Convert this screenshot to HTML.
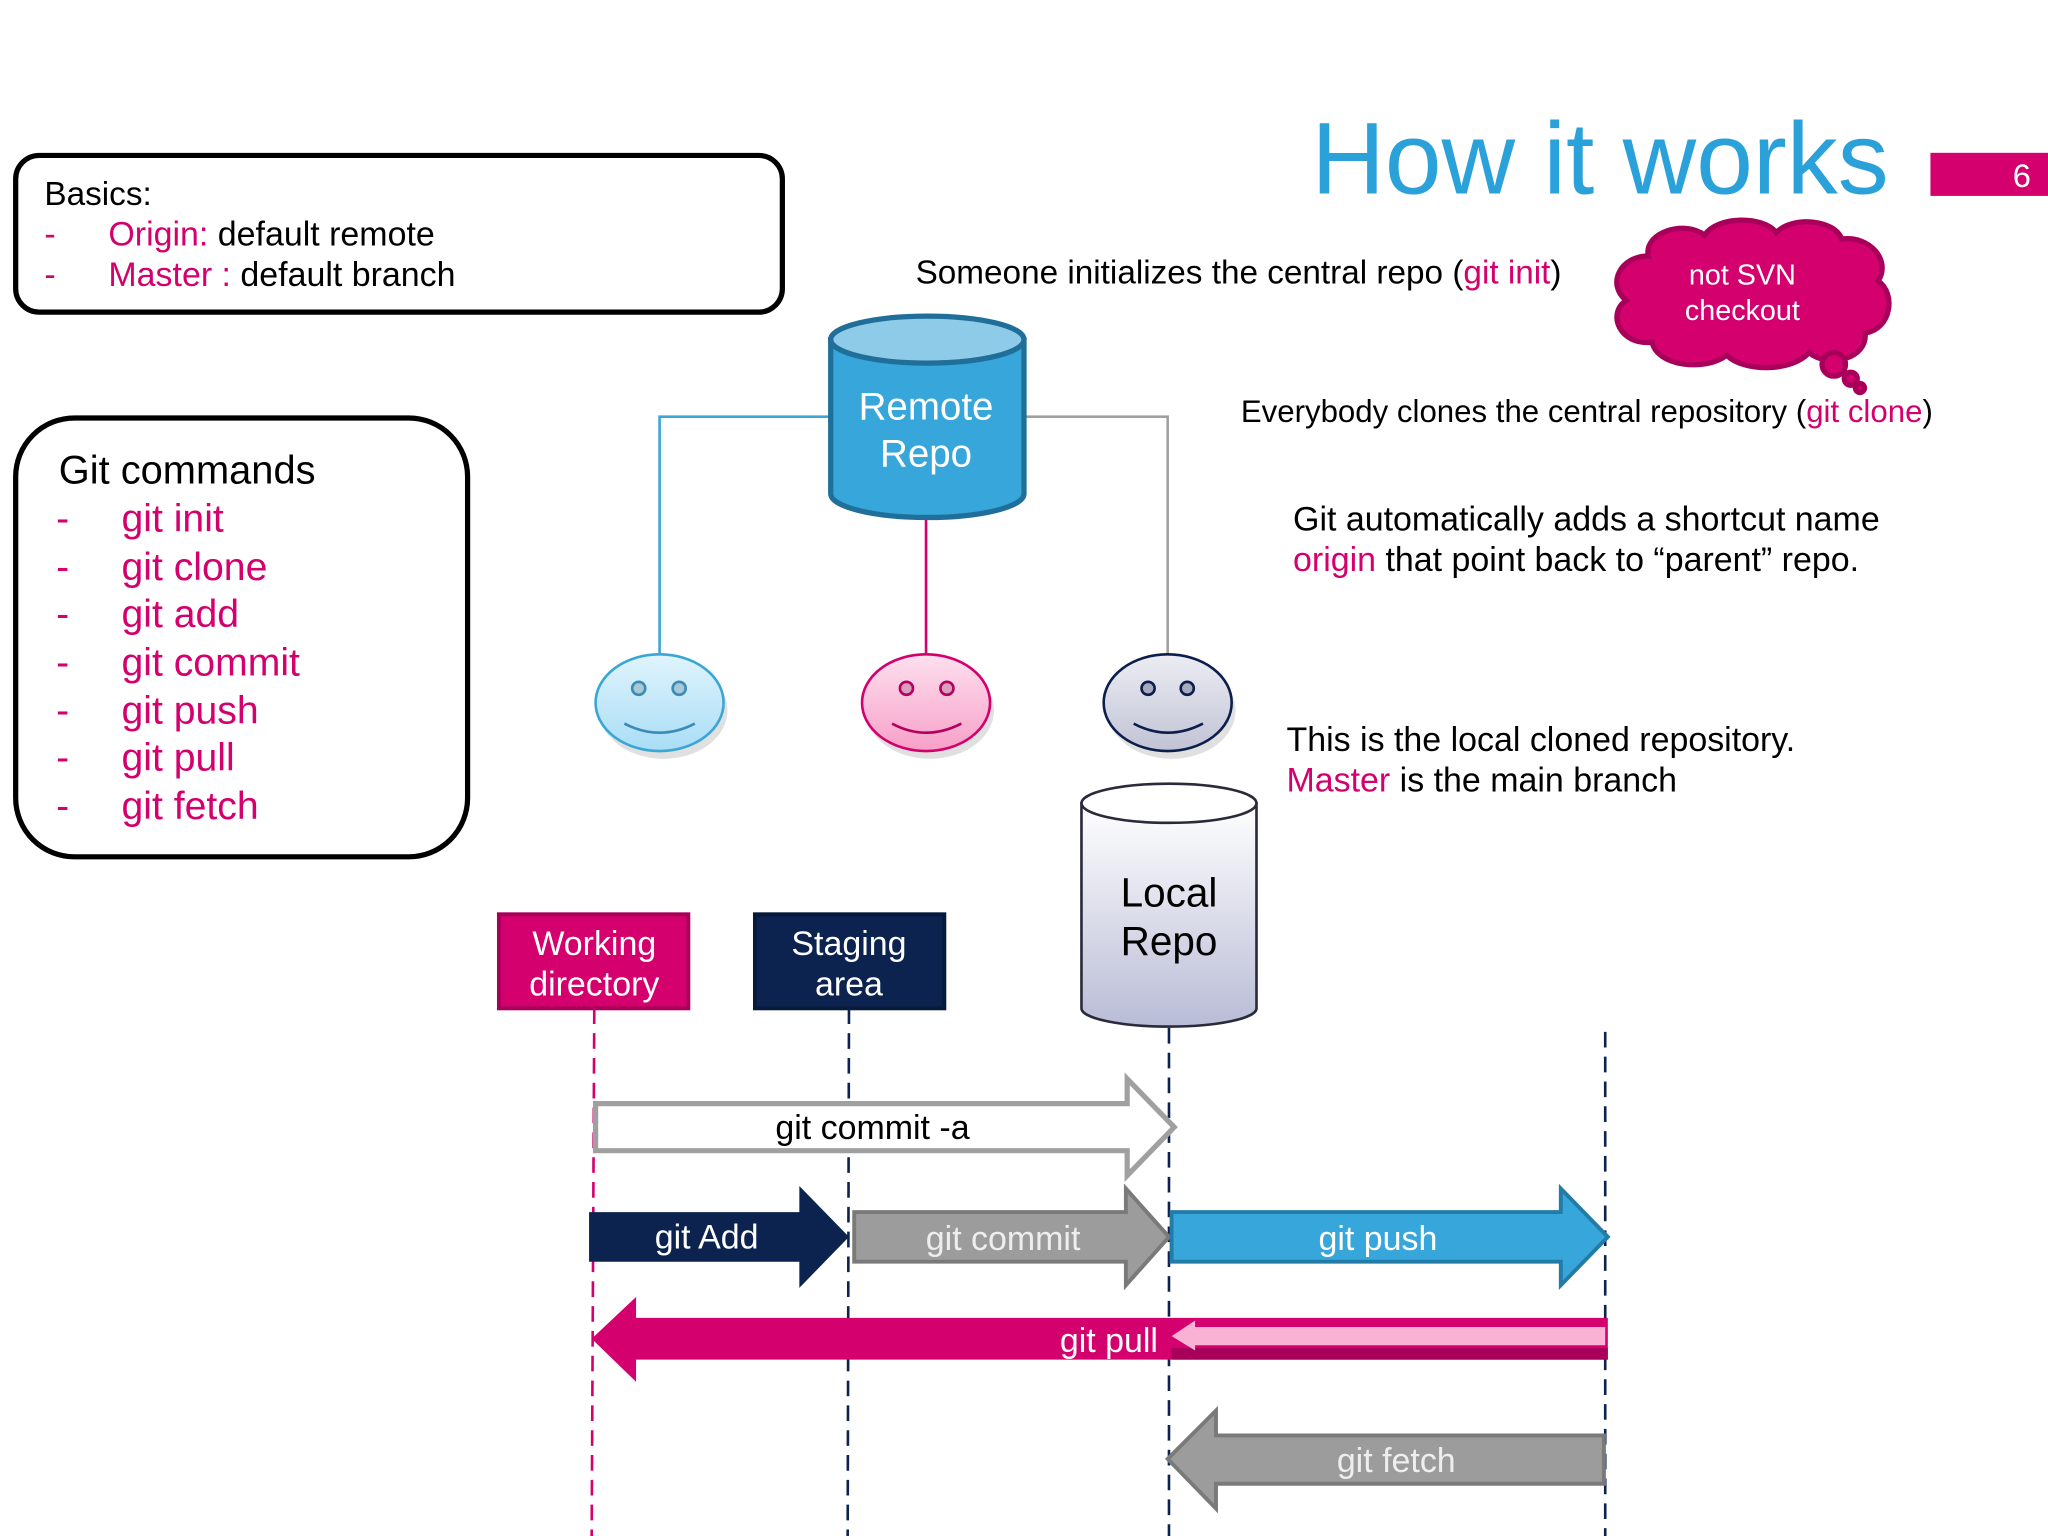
<!DOCTYPE html>
<html><head><meta charset="utf-8"><style>
html,body{margin:0;padding:0;background:#fff;}
svg{display:block;}
text{font-family:"Liberation Sans",Arial,sans-serif;}
</style></head><body>
<svg width="2048" height="1536" viewBox="0 0 1568 1176" xmlns="http://www.w3.org/2000/svg">
<defs>
<linearGradient id="lr" x1="0" y1="0" x2="0" y2="1"><stop offset="0" stop-color="#ffffff"/><stop offset="1" stop-color="#b9bcd6"/></linearGradient>
<linearGradient id="sb" x1="0" y1="0" x2="0" y2="1"><stop offset="0" stop-color="#e0f4fd"/><stop offset="1" stop-color="#a9ddf6"/></linearGradient>
<linearGradient id="sp" x1="0" y1="0" x2="0" y2="1"><stop offset="0" stop-color="#fde0ee"/><stop offset="1" stop-color="#f7a0c8"/></linearGradient>
<linearGradient id="sg" x1="0" y1="0" x2="0" y2="1"><stop offset="0" stop-color="#ecedf3"/><stop offset="1" stop-color="#c1c3d5"/></linearGradient>
</defs>
<rect width="1568" height="1176" fill="#fff"/>
<text x="1004" y="148" font-size="78" fill="#2ba1da">How it works</text>
<rect x="1478" y="117" width="90" height="33" fill="#d4006e"/>
<text x="1548" y="143" font-size="25" fill="#fff" text-anchor="middle">6</text>
<rect x="12" y="119" width="587" height="120" rx="18" fill="#fff" stroke="#000" stroke-width="4"/>
<text x="34" y="157" font-size="25.5">Basics:</text>
<text x="34" y="188" font-size="26" fill="#d4006e">-</text>
<text x="83" y="188" font-size="26"><tspan fill="#d4006e">Origin:</tspan> default remote</text>
<text x="34" y="219" font-size="26" fill="#d4006e">-</text>
<text x="83" y="219" font-size="26"><tspan fill="#d4006e">Master :</tspan> default branch</text>
<rect x="12" y="320" width="346" height="336" rx="45" fill="#fff" stroke="#000" stroke-width="4"/>
<text x="45" y="370" font-size="30.5">Git commands</text>
<g font-size="30" fill="#d4006e">
<text x="43" y="407">-</text><text x="93" y="407">git init</text>
<text x="43" y="444">-</text><text x="93" y="444">git clone</text>
<text x="43" y="480">-</text><text x="93" y="480">git add</text>
<text x="43" y="517">-</text><text x="93" y="517">git commit</text>
<text x="43" y="554">-</text><text x="93" y="554">git push</text>
<text x="43" y="590">-</text><text x="93" y="590">git pull</text>
<text x="43" y="627">-</text><text x="93" y="627">git fetch</text>
</g>
<text x="701" y="217" font-size="25.5">Someone initializes the central repo (<tspan fill="#d4006e">git init</tspan>)</text>
<text x="950" y="323" font-size="23.9">Everybody clones the central repository (<tspan fill="#d4006e">git clone</tspan>)</text>
<text x="990" y="406" font-size="26">Git automatically adds a shortcut name</text>
<text x="990" y="437" font-size="26"><tspan fill="#d4006e">origin</tspan> that point back to “parent” repo.</text>
<text x="985" y="575" font-size="26">This is the local cloned repository.</text>
<text x="985" y="606" font-size="26"><tspan fill="#d4006e">Master</tspan> is the main branch</text>
<g fill="#d4006e" stroke="#a8005a" stroke-width="4">
<path d="M1262,196 C1258,178 1290,168 1305,180 C1315,165 1350,165 1360,178 C1372,165 1405,168 1410,183 C1432,180 1448,200 1438,215 C1452,225 1448,252 1428,255 C1430,275 1400,282 1385,270 C1372,285 1335,285 1322,272 C1305,285 1268,280 1265,262 C1240,265 1230,240 1245,230 C1230,218 1240,196 1262,196 Z"/>
<circle cx="1404" cy="279" r="9"/>
<circle cx="1417" cy="290" r="5"/>
<circle cx="1424" cy="297" r="3.5"/>
</g>
<text x="1334" y="218" font-size="22" fill="#fff" text-anchor="middle">not SVN</text>
<text x="1334" y="245" font-size="22" fill="#fff" text-anchor="middle">checkout</text>
<polyline points="635,319 505,319 505,502" fill="none" stroke="#3aa6d6" stroke-width="2"/>
<line x1="709" y1="395" x2="709" y2="501" stroke="#d4006e" stroke-width="2"/>
<polyline points="785,319 894,319 894,502" fill="none" stroke="#a0a0a0" stroke-width="2"/>
<path d="M636,260 L636,378 A73,18 0 0 0 784,378 L784,260 Z" fill="#37a6da" stroke="#1f6f9a" stroke-width="4"/>
<ellipse cx="710" cy="260" rx="74" ry="18" fill="#8ecbe8" stroke="#1f6f9a" stroke-width="4"/>
<text x="709" y="321" font-size="29.5" fill="#fff" text-anchor="middle">Remote</text>
<text x="709" y="357" font-size="29.5" fill="#fff" text-anchor="middle">Repo</text>
<g stroke-width="2">
<ellipse cx="505" cy="540" rx="49" ry="37" fill="#000" opacity="0.12" transform="translate(3,4)"/>
<ellipse cx="505" cy="538" rx="49" ry="37" fill="url(#sb)" stroke="#3aa6d6"/>
<circle cx="489" cy="527" r="5" fill="#a8c8d8" stroke="#3a8cb6"/><circle cx="520" cy="527" r="5" fill="#a8c8d8" stroke="#3a8cb6"/>
<path d="M478,554 Q505,568 532,554" fill="none" stroke="#3a8cb6"/>
<ellipse cx="709" cy="540" rx="49" ry="37" fill="#000" opacity="0.12" transform="translate(3,4)"/>
<ellipse cx="709" cy="538" rx="49" ry="37" fill="url(#sp)" stroke="#d4006e"/>
<circle cx="694" cy="527" r="5" fill="#d8a0bc" stroke="#b4005e"/><circle cx="725" cy="527" r="5" fill="#d8a0bc" stroke="#b4005e"/>
<path d="M683,554 Q709,568 736,554" fill="none" stroke="#b4005e"/>
<ellipse cx="894" cy="540" rx="49" ry="37" fill="#000" opacity="0.12" transform="translate(3,4)"/>
<ellipse cx="894" cy="538" rx="49" ry="37" fill="url(#sg)" stroke="#0c1f4c"/>
<circle cx="879" cy="527" r="5" fill="#a8abc0" stroke="#0c1f4c"/><circle cx="909" cy="527" r="5" fill="#a8abc0" stroke="#0c1f4c"/>
<path d="M868,554 Q894,568 921,554" fill="none" stroke="#0c1f4c"/>
</g>
<path d="M828,615 L828,772 A67,14 0 0 0 962,772 L962,615 Z" fill="url(#lr)" stroke="#2a2a3a" stroke-width="2"/>
<ellipse cx="895" cy="615" rx="67" ry="15" fill="#fff" stroke="#2a2a3a" stroke-width="2"/>
<text x="895" y="694" font-size="31" text-anchor="middle">Local</text>
<text x="895" y="731" font-size="31" text-anchor="middle">Repo</text>
<rect x="382" y="700" width="145" height="72" fill="#d4006e" stroke="#a8005a" stroke-width="3"/>
<text x="455" y="731" font-size="26" fill="#fff" text-anchor="middle">Working</text>
<text x="455" y="762" font-size="26" fill="#fff" text-anchor="middle">directory</text>
<rect x="578" y="700" width="145" height="72" fill="#0c2350" stroke="#081a3c" stroke-width="3"/>
<text x="650" y="731" font-size="26" fill="#fff" text-anchor="middle">Staging</text>
<text x="650" y="762" font-size="26" fill="#fff" text-anchor="middle">area</text>
<g stroke-width="2" stroke-dasharray="12,7" fill="none">
<line x1="455" y1="772" x2="453" y2="1176" stroke="#d4006e"/>
<line x1="650" y1="772" x2="649" y2="1176" stroke="#0c2350"/>
<line x1="895" y1="787" x2="895" y2="1176" stroke="#0c2350"/>
<line x1="1229" y1="790" x2="1229" y2="1176" stroke="#0c2350"/>
</g>
<path d="M456,845 L863,845 L863,826 L899,863 L863,900 L863,881 L456,881 Z" fill="#fff" stroke="#a0a0a0" stroke-width="4"/>
<text x="668" y="872" font-size="26" text-anchor="middle">git commit -a</text>
<path d="M451,928 L612,928 L612,908 L650,947 L612,986 L612,966 L451,966 Z" fill="#0c2350"/>
<text x="541" y="956" font-size="26" fill="#fff" text-anchor="middle">git Add</text>
<path d="M654,928 L862,928 L862,910 L895,947 L862,984 L862,966 L654,966 Z" fill="#9c9c9c" stroke="#7a7a7a" stroke-width="3"/>
<text x="768" y="957" font-size="26" fill="#eee" text-anchor="middle">git commit</text>
<path d="M897,928 L1195,928 L1195,910 L1231,947 L1195,984 L1195,966 L897,966 Z" fill="#37a6da" stroke="#237ca8" stroke-width="3"/>
<text x="1055" y="957" font-size="26" fill="#fff" text-anchor="middle">git push</text>
<path d="M1231,1009 L487,1009 L487,993 L453,1025 L487,1058 L487,1041 L1231,1041 Z" fill="#d4006e"/>
<rect x="897" y="1032" width="334" height="9" fill="#a8005a"/>
<path d="M1229,1016 L915,1016 L915,1011 L897,1023 L915,1034 L915,1030 L1229,1030 Z" fill="#f9b2d4"/>
<text x="849" y="1035" font-size="26" fill="#fff" text-anchor="middle">git pull</text>
<path d="M1228,1099 L931,1099 L931,1080 L894,1117 L931,1155 L931,1136 L1228,1136 Z" fill="#9c9c9c" stroke="#7a7a7a" stroke-width="3"/>
<text x="1069" y="1127" font-size="26" fill="#eee" text-anchor="middle">git fetch</text>
</svg>
</body></html>
